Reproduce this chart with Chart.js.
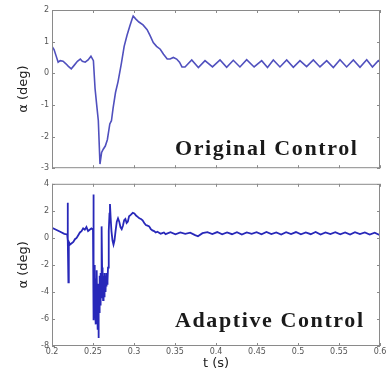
<!DOCTYPE html>
<html><head><meta charset="utf-8">
<script src="https://cdn.jsdelivr.net/npm/chart.js@4/dist/chart.umd.min.js"></script>
<style>
html,body{margin:0;padding:0;background:#fff;}
#wrap{position:relative;width:388px;height:374px;overflow:hidden;background:#fff;}
#c1box{position:absolute;left:0;top:0;width:388px;height:176px;}
#c2box{position:absolute;left:0;top:176px;width:388px;height:198px;}
.lbl{position:absolute;font-family:"Liberation Serif","Times New Roman",serif;font-weight:bold;font-size:22px;line-height:22px;letter-spacing:1.6px;color:#1a1a1a;white-space:nowrap;}
</style></head><body>
<div id="wrap">
<div id="c1box"><canvas id="c1"></canvas></div>
<div id="c2box"><canvas id="c2"></canvas></div>
<div class="lbl" style="left:175px;top:137px;">Original Control</div>
<div class="lbl" style="left:175px;top:309px;">Adaptive Control</div>
</div>
<script>
// ---- data ----
const xTicks = [0.2, 0.25, 0.3, 0.35, 0.4, 0.45, 0.5, 0.55, 0.6];
const yTicksTop = [2, 1, 0, -1, -2, -3];
const yTicksBottom = [4, 2, 0, -2, -4, -6, -8];

const tOriginal = [0.2, 0.2025, 0.205, 0.2075, 0.21, 0.2135, 0.217, 0.22, 0.2235, 0.227, 0.231, 0.2345, 0.237, 0.2405, 0.244, 0.2475, 0.2505, 0.2525, 0.2545, 0.2565, 0.2585, 0.2605, 0.2625, 0.265, 0.2675, 0.2705, 0.2725, 0.2745, 0.2775, 0.2805, 0.2845, 0.288, 0.2915, 0.295, 0.2975, 0.299, 0.302, 0.306, 0.311, 0.316, 0.3195, 0.3235, 0.3275, 0.332, 0.336, 0.3405, 0.344, 0.348, 0.352, 0.3555, 0.3585, 0.3622, 0.3704, 0.3785, 0.3866, 0.3957, 0.4049, 0.413, 0.4211, 0.4292, 0.4374, 0.4465, 0.4557, 0.4628, 0.4699, 0.478, 0.4862, 0.4943, 0.5024, 0.5105, 0.5187, 0.5268, 0.535, 0.5431, 0.5512, 0.5593, 0.5675, 0.5756, 0.5838, 0.5908, 0.5979, 0.6];
const aOriginal = [0.85, 0.75, 0.55, 0.35, 0.4, 0.38, 0.3, 0.22, 0.14, 0.25, 0.38, 0.45, 0.38, 0.35, 0.42, 0.54, 0.4, -0.48, -1.0, -1.5, -2.87, -2.5, -2.4, -2.3, -2.1, -1.6, -1.5, -1.1, -0.6, -0.27, 0.3, 0.85, 1.2, 1.5, 1.7, 1.81, 1.72, 1.62, 1.53, 1.38, 1.2, 0.97, 0.85, 0.76, 0.6, 0.45, 0.45, 0.5, 0.45, 0.35, 0.2, 0.2, 0.42, 0.18, 0.4, 0.2, 0.42, 0.19, 0.41, 0.2, 0.43, 0.2, 0.4, 0.18, 0.42, 0.2, 0.42, 0.19, 0.4, 0.21, 0.42, 0.2, 0.4, 0.18, 0.43, 0.2, 0.42, 0.19, 0.43, 0.2, 0.4, 0.35];

const tAdaptive = [0.2, 0.205, 0.21, 0.215, 0.2185, 0.219, 0.2195, 0.22, 0.2205, 0.222, 0.224, 0.226, 0.228, 0.23, 0.232, 0.234, 0.236, 0.238, 0.24, 0.242, 0.244, 0.246, 0.248, 0.25, 0.2503, 0.2507, 0.2511, 0.2515, 0.2519, 0.2523, 0.2527, 0.2531, 0.2535, 0.2539, 0.2543, 0.2547, 0.2551, 0.2555, 0.2559, 0.2563, 0.2567, 0.2571, 0.2575, 0.2579, 0.2583, 0.2587, 0.2591, 0.2595, 0.2599, 0.2603, 0.2607, 0.2611, 0.2615, 0.2619, 0.2623, 0.2627, 0.2631, 0.2635, 0.2639, 0.2643, 0.2647, 0.2651, 0.2655, 0.2659, 0.2663, 0.2667, 0.2671, 0.2675, 0.2679, 0.2683, 0.2689, 0.2695, 0.2701, 0.2707, 0.2715, 0.2725, 0.2738, 0.275, 0.2762, 0.2775, 0.279, 0.2805, 0.282, 0.2835, 0.285, 0.2865, 0.288, 0.2895, 0.291, 0.2925, 0.294, 0.296, 0.2985, 0.3005, 0.3025, 0.3045, 0.3065, 0.3085, 0.3105, 0.3125, 0.3145, 0.3165, 0.3185, 0.3205, 0.3225, 0.3245, 0.3265, 0.3285, 0.3305, 0.3325, 0.3345, 0.3365, 0.3385, 0.3445, 0.3505, 0.3565, 0.3625, 0.3685, 0.3745, 0.378, 0.3835, 0.3895, 0.3955, 0.4015, 0.4075, 0.4135, 0.4195, 0.4255, 0.4315, 0.4375, 0.4435, 0.4495, 0.4555, 0.4615, 0.4675, 0.4735, 0.4795, 0.4855, 0.4915, 0.4975, 0.5035, 0.5095, 0.5155, 0.5215, 0.5275, 0.5335, 0.5395, 0.5455, 0.5515, 0.5575, 0.5635, 0.5695, 0.5755, 0.5815, 0.5875, 0.5935, 0.6];
const aAdaptive = [0.75, 0.6, 0.45, 0.3, 0.25, 2.6, -0.2, -3.3, -0.3, -0.5, -0.4, -0.3, -0.1, 0.0, 0.2, 0.4, 0.5, 0.7, 0.6, 0.8, 0.5, 0.6, 0.7, 0.6, 3.2, -1.5, -6.1, -2.0, -5.0, -2.6, -5.6, -3.2, -6.4, -3.0, -4.8, -2.4, -5.2, -3.6, -6.8, -3.4, -7.4, -3.8, -5.5, -2.8, -4.6, -3.2, -5.0, -2.6, -4.4, -1.5, 0.85, -2.2, -4.2, -3.0, -4.6, -2.8, -4.0, -3.0, -4.4, -2.6, -3.8, -3.0, -4.0, -2.8, -3.6, -2.6, -3.4, -2.8, -3.2, -2.2, -1.0, 0.5, 1.8, 2.5, 1.5, 0.5, -0.2, -0.5, -0.2, 0.5, 1.2, 1.45, 1.2, 0.8, 0.65, 0.9, 1.3, 1.4, 1.1, 1.2, 1.6, 1.7, 1.85, 1.8, 1.65, 1.55, 1.45, 1.4, 1.3, 1.1, 0.95, 0.9, 0.85, 0.65, 0.55, 0.5, 0.4, 0.45, 0.38, 0.3, 0.35, 0.4, 0.28, 0.42, 0.26, 0.4, 0.3, 0.38, 0.2, 0.12, 0.35, 0.42, 0.28, 0.43, 0.26, 0.4, 0.27, 0.42, 0.24, 0.4, 0.3, 0.42, 0.26, 0.44, 0.28, 0.4, 0.25, 0.42, 0.28, 0.43, 0.26, 0.4, 0.27, 0.44, 0.25, 0.4, 0.28, 0.42, 0.26, 0.4, 0.24, 0.42, 0.28, 0.4, 0.25, 0.38, 0.2];

// ---- helpers ----
function pts(ts, vs){ return ts.map((t,i)=>({x:t, y:vs[i]})); }

const frameTicks = {
  id: 'frameTicks',
  afterDraw(chart){
    const {ctx, chartArea:a, scales} = chart;
    ctx.save();
    ctx.strokeStyle = '#8a8a8a';
    ctx.lineWidth = 1;
    ctx.strokeRect(a.left+0.5, a.top+0.5, a.right-a.left-1, a.bottom-a.top-1);
    const L = 3;
    ctx.beginPath();
    scales.x.ticks.forEach(t=>{
      const px = Math.round(scales.x.getPixelForValue(t.value))+0.5;
      ctx.moveTo(px, a.bottom); ctx.lineTo(px, a.bottom-L);
      ctx.moveTo(px, a.top); ctx.lineTo(px, a.top+L);
    });
    scales.y.ticks.forEach(t=>{
      const py = Math.round(scales.y.getPixelForValue(t.value))+0.5;
      ctx.moveTo(a.left, py); ctx.lineTo(a.left+L, py);
      ctx.moveTo(a.right, py); ctx.lineTo(a.right-L, py);
    });
    ctx.stroke();
    ctx.restore();
  }
};

function makeChart(id, data, color, width, yTicks, ymin, ymax, showX, padTop, xHeight){
  return new Chart(document.getElementById(id), {
    type: 'line',
    data: { datasets: [{ data: data, borderColor: color, borderWidth: width, pointRadius: 0, tension: 0, fill: false }] },
    options: {
      responsive: true, maintainAspectRatio: false, animation: false,
      layout: { padding: { left: 0, right: 8, top: padTop, bottom: 0 } },
      plugins: { legend: { display: false }, tooltip: { enabled: false } },
      scales: {
        x: {
          type: 'linear', min: 0.2, max: 0.6,
          afterBuildTicks: s => { s.ticks = xTicks.map(v=>({value:v})); },
          afterFit: s => { s.height = xHeight; },
          grid: { display: false, drawTicks: false },
          border: { display: false },
          ticks: { display: showX, padding: 1, color: '#555', font: { family: 'DejaVu Sans', size: 8 },
                   callback: v => String(v), maxRotation: 0, autoSkip: false },
          title: { display: showX, text: 't (s)', color: '#222', font: { family: 'DejaVu Sans', size: 13 }, padding: { top: 0, bottom: 3 } }
        },
        y: {
          type: 'linear', min: ymin, max: ymax,
          afterBuildTicks: s => { s.ticks = yTicks.map(v=>({value:v})); },
          afterFit: s => { s.width = 52; },
          grid: { display: false, drawTicks: false },
          border: { display: false },
          ticks: { padding: 3, color: '#555', font: { family: 'DejaVu Sans', size: 8 }, callback: v => String(v) },
          title: { display: true, text: 'α (deg)', color: '#222', font: { family: 'DejaVu Sans', size: 13 }, padding: { top: 16, bottom: 0 } }
        }
      }
    },
    plugins: [frameTicks]
  });
}

makeChart('c1', pts(tOriginal, aOriginal), 'rgb(80,80,190)', 1.6, yTicksTop, -3, 2, false, 10, 5);
makeChart('c2', pts(tAdaptive, aAdaptive), 'rgb(40,40,185)', 1.8, yTicksBottom, -8, 4, true, 6, 28);
</script>
</body></html>
